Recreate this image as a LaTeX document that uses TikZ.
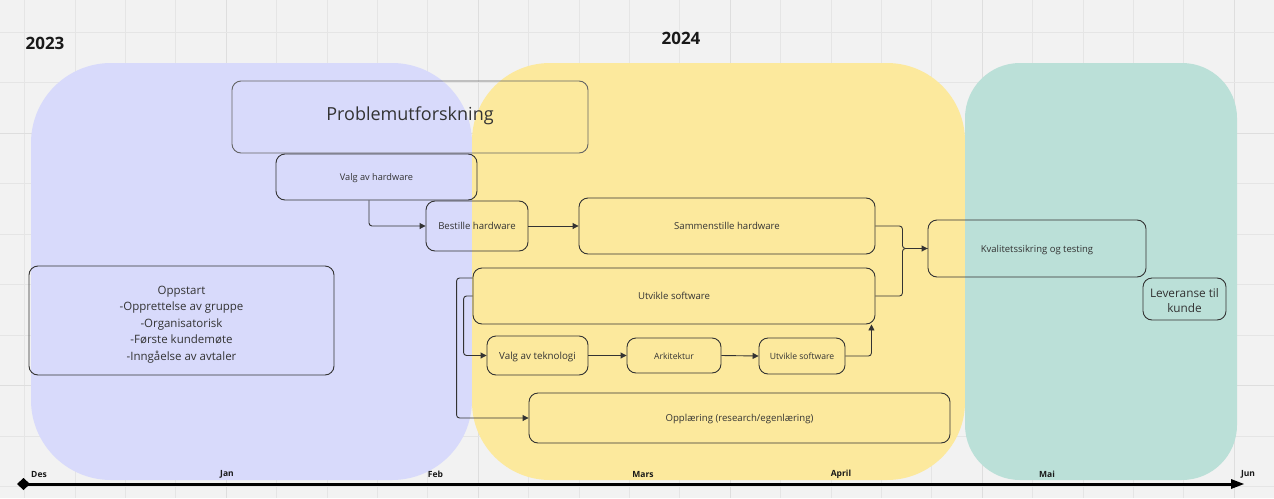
\documentclass[tikz,border=0pt]{standalone}
\usepackage{fontspec}
\setmainfont{Open Sans}
\usetikzlibrary{arrows.meta,positioning,calc}
\definecolor{bgc}{RGB}{242,242,242}
\definecolor{gridc}{RGB}{229,229,229}
\definecolor{gridd}{RGB}{222,222,222}
\definecolor{bluec}{RGB}{216,218,251}
\definecolor{yellowc}{RGB}{252,233,157}
\definecolor{tealc}{RGB}{187,224,216}
\definecolor{linec}{RGB}{51,51,51}
\definecolor{pfline}{RGB}{100,100,100}
\tikzset{
  box/.style={draw=linec, line width=0.9pt, rounded corners=9pt, inner sep=0pt, align=center, text=linec},
  one/.style={text height=1.069em, text depth=0.293em},
  conn/.style={draw=linec, line width=0.9pt, rounded corners=3pt, -{Triangle[length=6pt,width=6pt]}},
  plain/.style={draw=linec, line width=0.9pt, rounded corners=3pt},
  month/.style={font=\bfseries\fontsize{8.5}{10}\selectfont, text=black!90, inner sep=0pt},
  year/.style={font=\bfseries\fontsize{17}{20}\selectfont, text=black!90, inner sep=0pt},
}
\begin{document}
\begin{tikzpicture}[x=1pt,y=-1pt]
\useasboundingbox (0,0) rectangle (1274,498);
\fill[bgc] (0,0) rectangle (1274,498);
% grid
\foreach \i in {0,...,25} {
  \pgfmathsetmacro\xx{24.5+50.4*\i}
  \pgfmathtruncatemacro\m{mod(\i,5)}
  \ifnum\m=4 \draw[gridd,line width=1pt] (\xx,0) -- (\xx,498);
  \else \draw[gridc,line width=0.7pt] (\xx,0) -- (\xx,498); \fi
}
\foreach \j in {0,...,9} {
  \pgfmathsetmacro\yy{32+50.5*\j}
  \pgfmathtruncatemacro\m{mod(\j,5)}
  \ifnum\m=2 \draw[gridd,line width=1pt] (0,\yy) -- (1274,\yy);
  \else \draw[gridc,line width=0.7pt] (0,\yy) -- (1274,\yy); \fi
}
% regions
\fill[bluec, rounded corners=80pt] (31,63) rectangle (472,480);
\fill[yellowc, rounded corners=78pt] (472,63) rectangle (965,480);
\fill[tealc, rounded corners=55pt] (965,63) rectangle (1237,480);
% years
\node[year] (y2023) at (45,43) {2023};
\node[year] (y2024) at (681,38) {2024};
% boxes
\node[box, one, draw=pfline, minimum width=356pt, minimum height=72pt, font=\fontsize{18}{22}\selectfont] (pf) at (410,117) {Problemutforskning};
\node[box, one, minimum width=201pt, minimum height=46pt, font=\fontsize{9.2}{11}\selectfont] (vah) at (376.5,177) {Valg av hardware};
\node[box, one, minimum width=102pt, minimum height=50pt, font=\fontsize{9.6}{11}\selectfont] (bh) at (477,226) {Bestille hardware};
\node[box, one, minimum width=296pt, minimum height=56pt, font=\fontsize{9.6}{11}\selectfont] (sh) at (727,226) {Sammenstille hardware};
\node[box, one, minimum width=402pt, minimum height=56pt, font=\fontsize{9.6}{11}\selectfont] (us) at (674,296) {Utvikle software};
\node[box, one, minimum width=101pt, minimum height=39pt, font=\fontsize{9.8}{11}\selectfont] (vt) at (537.5,355.5) {Valg av teknologi};
\node[box, one, minimum width=94pt, minimum height=35pt, font=\fontsize{8.6}{10}\selectfont] (ark) at (674,355.5) {Arkitektur};
\node[box, one, minimum width=86pt, minimum height=36pt, font=\fontsize{8.6}{10}\selectfont] (us2) at (802,356) {Utvikle software};
\node[box, one, minimum width=421pt, minimum height=50pt, font=\fontsize{9.6}{11}\selectfont] (opp) at (739.5,418) {Opplæring (research/egenlæring)};
\node[box, one, minimum width=218pt, minimum height=57pt, font=\fontsize{9.5}{11}\selectfont] (kv) at (1037,248.5) {Kvalitetssikring og testing};
\node[box, minimum width=83pt, minimum height=42pt, font=\fontsize{11.8}{15}\selectfont] (lev) at (1184.5,299) {\rule{0pt}{12.5pt}Leveranse til\\kunde};
\node[box, minimum width=305pt, minimum height=109pt, font=\fontsize{11.5}{16.6}\selectfont] (oppst) at (181.5,320.5) {\rule{0pt}{16.5pt}Oppstart\\-Opprettelse av gruppe\\-Organisatorisk\\-Første kundemøte\\-Inngåelse av avtaler};
% connectors
\draw[conn] ([xshift=-7.5pt]vah.south) |- (bh.west);
\draw[conn] (bh.east) -- (sh.west);
\draw[plain] (sh.east) -- ++(27,0) |- (kv.west);
\draw[conn] (us.east) -- ++(27,0) |- (kv.west);
\draw[conn] ([yshift=18pt]us.west) -- ++(-16,0) |- (opp.west);
\draw[conn] (us.west) -- ++(-9,0) |- (vt.west);
\draw[conn] (vt.east) -- (ark.west);
\draw[conn] (ark.east) -- (us2.west);
\draw[conn] (us2.east) -| ([xshift=-4pt]us.south east);
% axis
\coordinate (axs) at (17,484);
\coordinate (axe) at (1244,484);
\draw[line width=3pt, black, {Diamond[length=13pt,width=12pt,line width=0pt]}-{Triangle[length=13pt,width=10pt,line width=0pt]}] (axs) -- (axe);
\node[month] (mdes) at (39,474) {Des};
\node[month] (mjan) at (227,474) {Jan};
\node[month] (mfeb) at (435.5,474) {Feb};
\node[month] (mmar) at (643,474) {Mars};
\node[month] (mapr) at (841,474) {April};
\node[month] (mmai) at (1047,474) {Mai};
\node[month] (mjun) at (1248,474) {Jun};
\end{tikzpicture}
\end{document}
